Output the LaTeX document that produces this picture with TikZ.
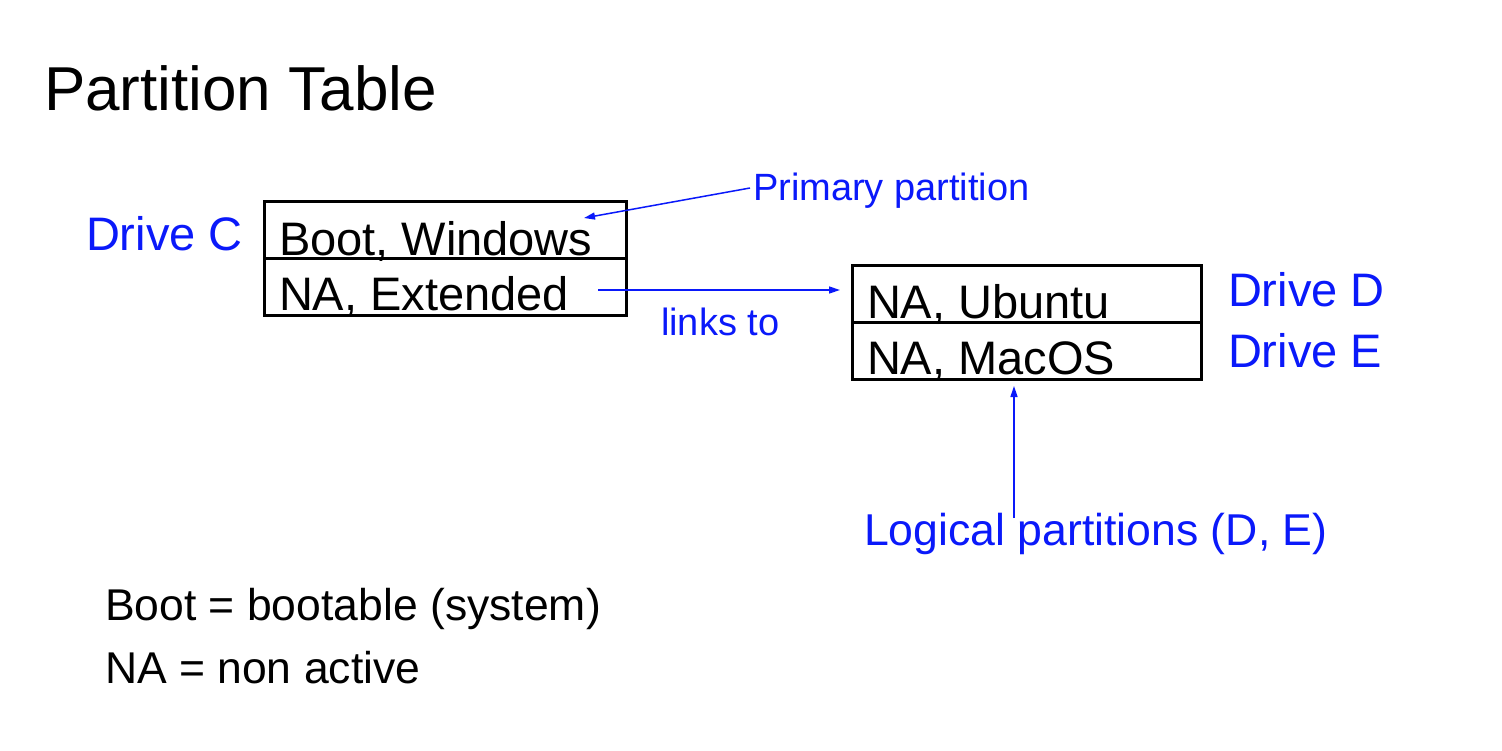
\documentclass[tikz,border=0pt]{standalone}
\usepackage{fontspec}
\setmainfont{Liberation Sans}
\usetikzlibrary{arrows.meta}
\definecolor{lblblue}{RGB}{10,25,250}
\begin{document}
\begin{tikzpicture}[x=1pt,y=-1pt,
  txt/.style={anchor=base west,inner sep=0pt,outer sep=0pt},
  cell/.style={draw=black,line width=3pt,minimum width=362pt,minimum height=57pt,anchor=north west,inner sep=0pt,outer sep=0pt},
  cellr/.style={draw=black,line width=3pt,minimum width=349pt,minimum height=57pt,anchor=north west,inner sep=0pt,outer sep=0pt},
  conn/.style={draw=lblblue,line width=1.5pt,-{Triangle[length=11pt,width=7pt]}}]
\useasboundingbox[fill=white] (0,0) rectangle (1502,750);
% title
\node[txt,font=\fontsize{62}{68}\selectfont] (title) at (44,110) {Partition Table};
% left table
\node[cell] (c1) at (264,201) {};
\node[cell] (c2) at (264,258) {};
\node[txt,font=\fontsize{47}{52}\selectfont] (boot) at (279,255) {Boot, Windows};
\node[txt,font=\fontsize{47}{52}\selectfont] (ext) at (279,310) {NA, Extended};
\node[txt,font=\fontsize{47}{52}\selectfont,text=lblblue] (dc) at (86,250) {Drive C};
% right table
\node[cellr] (r1) at (852,265) {};
\node[cellr] (r2) at (852,322) {};
\node[txt,font=\fontsize{47}{52}\selectfont] (ubu) at (867,318) {NA, Ubuntu};
\node[txt,font=\fontsize{47}{52}\selectfont] (mac) at (867,374) {NA, MacOS};
\node[txt,font=\fontsize{47}{52}\selectfont,text=lblblue] (dd) at (1228,306) {Drive D};
\node[txt,font=\fontsize{47}{52}\selectfont,text=lblblue] (de) at (1228,367) {Drive E};
% labels
\node[txt,font=\fontsize{38}{42}\selectfont,text=lblblue] (pp) at (753,200) {Primary partition};
\node[txt,font=\fontsize{38}{42}\selectfont,text=lblblue] (links) at (661,335) {links to};
\node[txt,font=\fontsize{44.6}{50}\selectfont,text=lblblue] (logic) at (864,545) {Logical partitions (D, E)};
% legend
\node[txt,font=\fontsize{44.5}{50}\selectfont] (leg1) at (105,620) {Boot = bootable (system)};
\node[txt,font=\fontsize{44.5}{50}\selectfont] (leg2) at (105,683) {NA = non active};
% connectors
\coordinate (ppstart) at (750,188);
\coordinate (ppend) at (584,218);
\draw[conn] (ppstart) -- (ppend);
\coordinate (lkstart) at (598,290);
\coordinate (lkend) at (840,290);
\draw[conn] (lkstart) -- (lkend);
\coordinate (lgstart) at (1014,518);
\coordinate (lgend) at (1014,386);
\draw[conn] (lgstart) -- (lgend);
\end{tikzpicture}
\end{document}
